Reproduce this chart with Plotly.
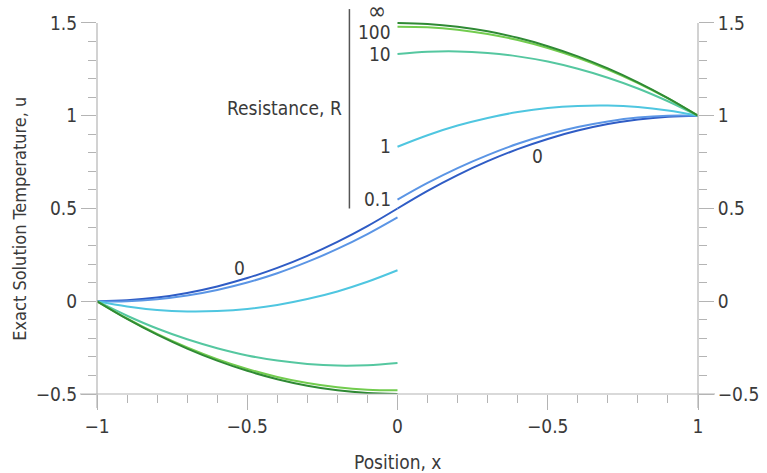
import plotly.graph_objects as go

# ---- data ----
x_left = [-1.0, -0.9, -0.8, -0.7, -0.6, -0.5, -0.4, -0.3, -0.2, -0.1, 0.0]
x_right = [0.0, 0.1, 0.2, 0.3, 0.4, 0.5, 0.6, 0.7, 0.8, 0.9, 1.0]

u_R0_left = [0.0, 0.005, 0.02, 0.045, 0.08, 0.125, 0.18, 0.245, 0.32, 0.405, 0.5]
u_R0_right = [0.5, 0.595, 0.68, 0.755, 0.82, 0.875, 0.92, 0.955, 0.98, 0.995, 1.0]
u_R01_left = [0.0, 0.0, 0.011, 0.031, 0.061, 0.101, 0.151, 0.212, 0.282, 0.362, 0.452]
u_R01_right = [0.548, 0.638, 0.718, 0.788, 0.849, 0.899, 0.939, 0.969, 0.990, 1.0, 1.0]
u_R1_left = [0.0, -0.028, -0.047, -0.055, -0.053, -0.042, -0.02, 0.012, 0.053, 0.105, 0.167]
u_R1_right = [0.833, 0.895, 0.947, 0.988, 1.02, 1.042, 1.053, 1.055, 1.047, 1.028, 1.0]
u_R10_left = [0.0, -0.078, -0.147, -0.205, -0.253, -0.292, -0.32, -0.338, -0.347, -0.345, -0.333]
u_R10_right = [1.333, 1.345, 1.347, 1.338, 1.32, 1.292, 1.253, 1.205, 1.147, 1.078, 1.0]
u_R100_left = [0.0, -0.093, -0.176, -0.249, -0.312, -0.365, -0.408, -0.441, -0.464, -0.477, -0.480]
u_R100_right = [1.480, 1.477, 1.464, 1.441, 1.408, 1.365, 1.312, 1.249, 1.176, 1.093, 1.0]
u_Rinf_left = [0.0, -0.095, -0.18, -0.255, -0.32, -0.375, -0.42, -0.455, -0.48, -0.495, -0.5]
u_Rinf_right = [1.5, 1.495, 1.48, 1.455, 1.42, 1.375, 1.32, 1.255, 1.18, 1.095, 1.0]

resistance_labels = ["0", "0.1", "1", "10", "100", "∞"]
series_left = [u_R0_left, u_R01_left, u_R1_left, u_R10_left, u_R100_left, u_Rinf_left]
series_right = [u_R0_right, u_R01_right, u_R1_right, u_R10_right, u_R100_right, u_Rinf_right]
colors = ["#2f5cc5", "#5b95e5", "#4fc6e0", "#55c7a0", "#72cc4e", "#2f8a34"]

x_tickvals = [-1, -0.5, 0, 0.5, 1]
x_ticktext = ["−1", "−0.5", "0", "−0.5", "1"]
x_minor = [-0.9, -0.8, -0.7, -0.6, -0.4, -0.3, -0.2, -0.1,
           0.1, 0.2, 0.3, 0.4, 0.6, 0.7, 0.8, 0.9]
y_tickvals = [-0.5, 0, 0.5, 1, 1.5]
y_ticktext = ["−0.5", "0", "0.5", "1", "1.5"]
y_minor = [-0.4, -0.3, -0.2, -0.1, 0.1, 0.2, 0.3, 0.4,
           0.6, 0.7, 0.8, 0.9, 1.1, 1.2, 1.3, 1.4]

# label positions for R values near x = 0 (data coords)
label_x = [-0.015, -0.015, -0.015, -0.015, -0.03]
label_y = [0.55, 0.839, 1.333, 1.452, 1.562]
label_size = [19, 19, 19, 19, 24]

# ---- figure ----
FONT = "DejaVu Sans Condensed, DejaVu Sans, sans-serif"
AXC = "#b4b4b4"
TXT = "#3a3a3a"

XMIN, XMAX = -1.0, 1.0
YMIN, YMAX = -0.5, 1.597
W, H = 767, 473
ML, MR, MT, MB = 97, 69, 5, 79
PW = W - ML - MR
PH = H - MT - MB


def px(x):
    return (x - XMIN) / (XMAX - XMIN)


def py(y):
    return (y - YMIN) / (YMAX - YMIN)


fig = go.Figure()
for i, (lab, ul, ur, c) in enumerate(zip(resistance_labels, series_left, series_right, colors)):
    fig.add_trace(go.Scatter(x=x_left, y=ul, mode="lines", line=dict(color=c, width=2, shape="spline"),
                             showlegend=False, hoverinfo="skip"))
    fig.add_trace(go.Scatter(x=x_right, y=ur, mode="lines", line=dict(color=c, width=2, shape="spline"),
                             showlegend=False, hoverinfo="skip",
                             yaxis="y2" if i == len(resistance_labels) - 1 else "y"))

axis_common = dict(showgrid=False, zeroline=False, showline=False, ticks="outside",
                   ticklen=15, tickwidth=1, tickcolor=AXC, automargin=False,
                   tickfont=dict(family=FONT, size=19, color=TXT))

fig.update_layout(
    width=W, height=H,
    margin=dict(l=ML, r=MR, t=MT, b=MB, autoexpand=False),
    plot_bgcolor="white", paper_bgcolor="white",
    xaxis=dict(range=[XMIN, XMAX], tickmode="array", tickvals=x_tickvals, ticktext=x_ticktext,
               minor=dict(tickmode="array", tickvals=x_minor, ticks="outside", ticklen=8, tickcolor=AXC),
               **axis_common),
    yaxis=dict(range=[YMIN, YMAX], tickmode="array", tickvals=y_tickvals, ticktext=y_ticktext,
               minor=dict(tickmode="array", tickvals=y_minor, ticks="outside", ticklen=8, tickcolor=AXC),
               **axis_common),
    yaxis2=dict(range=[YMIN, YMAX], overlaying="y", side="right", tickmode="array",
                tickvals=y_tickvals, ticktext=y_ticktext,
                minor=dict(tickmode="array", tickvals=y_minor, ticks="outside", ticklen=8, tickcolor=AXC),
                **axis_common),
)

ext_x = 17 / PW
ext_y = 14 / PH
shapes = [
    dict(type="line", xref="paper", yref="paper", x0=-ext_x, x1=1 + ext_x, y0=0, y1=0,
         line=dict(color=AXC, width=1.2)),
    dict(type="line", xref="paper", yref="paper", x0=0, x1=0, y0=-ext_y, y1=py(1.5),
         line=dict(color=AXC, width=1.2)),
    dict(type="line", xref="paper", yref="paper", x0=1, x1=1, y0=-ext_y, y1=py(1.5),
         line=dict(color=AXC, width=1.2)),
    dict(type="line", xref="x", yref="y", x0=-0.16, x1=-0.16, y0=0.5, y1=1.575,
         line=dict(color="#555555", width=1.5)),
]
fig.update_layout(shapes=shapes)

ann = []
for lab, lx, ly, ls in zip(resistance_labels[1:], label_x, label_y, label_size):
    ann.append(dict(x=lx, y=ly, xref="x", yref="y", text=lab, showarrow=False,
                    xanchor="right", yanchor="middle", font=dict(family=FONT, size=ls, color=TXT)))
ann.append(dict(x=-0.526, y=0.177, xref="x", yref="y", text="0", showarrow=False,
                font=dict(family=FONT, size=19, color=TXT)))
ann.append(dict(x=0.466, y=0.785, xref="x", yref="y", text="0", showarrow=False,
                font=dict(family=FONT, size=19, color=TXT)))
ann.append(dict(x=-0.178, y=1.043, xref="x", yref="y", text="Resistance, R", showarrow=False,
                xanchor="right", yanchor="middle", font=dict(family=FONT, size=19, color=TXT)))
ann.append(dict(x=(20 - ML) / PW, y=0.445, xref="paper", yref="y", text="Exact Solution Temperature, u",
                showarrow=False, textangle=-90, xanchor="center", yanchor="middle",
                font=dict(family=FONT, size=18, color=TXT)))
ann.append(dict(x=0.5, y=-(462 - (H - MB)) / PH, xref="paper", yref="paper", text="Position, x",
                showarrow=False, xanchor="center", yanchor="middle",
                font=dict(family=FONT, size=19, color=TXT)))
fig.update_layout(annotations=ann)

fig.write_html("out.html", config={"displayModeBar": False},
               post_script="document.body.style.margin='0';")
